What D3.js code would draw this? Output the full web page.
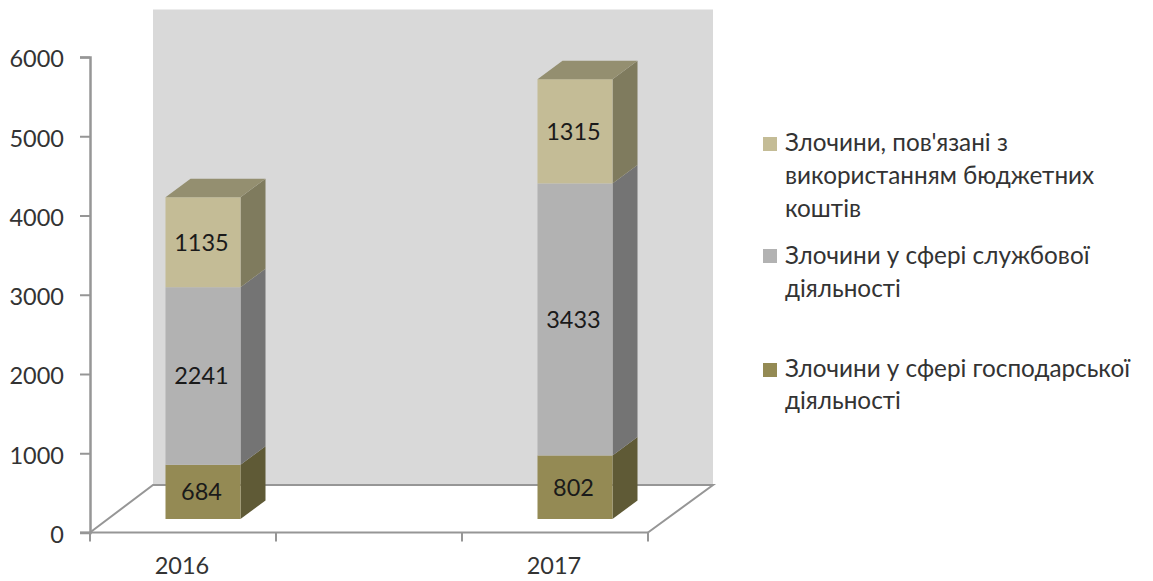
<!DOCTYPE html>
<html>
<head>
<meta charset="utf-8">
<script src="https://cdn.jsdelivr.net/npm/d3@7"></script>
<style>
html, body { margin: 0; padding: 0; background: #fff; }
svg { display: block; }
text { font-family: Lato, "Open Sans", sans-serif; }
</style>
</head>
<body>
<svg id="chart" width="1153" height="581"></svg>
<script>
// Chart data
const years = ["2016", "2017"];
const axisSlots = ["2016", "", "2017"];
const economic = [684, 802];
const official = [2241, 3433];
const budget = [1135, 1315];
const yTicks = [0, 1000, 2000, 3000, 4000, 5000, 6000];

const seriesNames = ["economic", "official", "budget"];
const legendEntries = [
  { key: "budget", lines: ["Злочини, пов'язані з", "використанням бюджетних", "коштів"], top: 137, baselines: [151, 184, 217] },
  { key: "official", lines: ["Злочини у сфері службової", "діяльності"], top: 249, baselines: [264, 297] },
  { key: "economic", lines: ["Злочини у сфері господарської", "діяльності"], top: 363, baselines: [377, 409] }
];
const palette = {
  economic: { front: "#948a54", side: "#5f5a36", top: "#77704a" },
  official: { front: "#b2b2b2", side: "#747474", top: "#8f8f8f" },
  budget: { front: "#c4bc96", side: "#7f7b5e", top: "#948f70" }
};

const axisColor = "#969696";
const textColor = "#333";
const fontSize = 23.5;
const legendFontSize = 24.3;

const svg = d3.select("#chart");
const x = d3.scaleBand().domain(axisSlots).range([90, 648]);
const y = d3.scaleLinear().domain([0, 6000]).range([532.5, 57]);

// Oblique projection: the wall sits behind the front plane, the bars halfway in
const depth = { x: 63, y: -47.5 };
const barShift = { x: 20, y: -13.5 };
const barDepth = { x: 25, y: -18.5 };
const barWidth = 75;

const poly = pts => pts.map(p => p.join(",")).join(" ");

// Back wall and floor
const [x0, x1] = x.range();
const floorOutline = [
  [x0, y(0)], [x0 + depth.x, y(0) + depth.y],
  [x1 + depth.x + 2, y(0) + depth.y], [x1, y(0)]
];
svg.append("rect")
  .attr("x", x0 + depth.x).attr("y", y(6000) + depth.y)
  .attr("width", x1 - x0 + 2)
  .attr("height", y(0) - y(6000))
  .attr("fill", "#d9d9d9");
svg.append("polygon")
  .attr("points", poly(floorOutline))
  .attr("fill", "#fff");
svg.append("polyline")
  .attr("points", poly(floorOutline))
  .attr("fill", "none").attr("stroke", axisColor).attr("stroke-width", 2);

// Stacked prisms, one segment per series from the bottom up
const stacked = d3.stack().keys(seriesNames)(
  years.map((yr, i) => ({
    year: yr,
    economic: economic[i],
    official: official[i],
    budget: budget[i]
  }))
);

stacked.forEach(layer => {
  const colors = palette[layer.key];
  const group = svg.append("g").attr("class", "series-" + layer.key);
  const isTop = layer.key === seriesNames[seriesNames.length - 1];
  layer.forEach(seg => {
    const yr = seg.data.year;
    const left = x(yr) + x.bandwidth() / 2 + barShift.x - barWidth / 2;
    const right = left + barWidth;
    const yB = y(seg[0]) + barShift.y;
    const yT = y(seg[1]) + barShift.y;
    group.append("polygon")
      .attr("points", poly([
        [right, yB], [right + barDepth.x, yB + barDepth.y],
        [right + barDepth.x, yT + barDepth.y], [right, yT]
      ]))
      .attr("fill", colors.side);
    group.append("rect")
      .attr("x", left).attr("y", yT)
      .attr("width", barWidth).attr("height", yB - yT)
      .attr("fill", colors.front);
    if (isTop) {
      group.append("polygon")
        .attr("points", poly([
          [left, yT], [left + barDepth.x, yT + barDepth.y],
          [right + barDepth.x, yT + barDepth.y], [right, yT]
        ]))
        .attr("fill", colors.top);
    }
    group.append("text")
      .attr("x", (left + right) / 2 - 1.5)
      .attr("y", (yT + yB) / 2 + 8.5)
      .attr("text-anchor", "middle")
      .attr("font-size", fontSize)
      .attr("fill", "#1a1a1a")
      .text(seg[1] - seg[0]);
  });
});

// Value axis
const yAxis = svg.append("g")
  .attr("transform", `translate(${x0},0)`)
  .call(d3.axisLeft(y).tickValues(yTicks).tickSize(10).tickPadding(16).tickFormat(d3.format("d")));
yAxis.select(".domain").attr("stroke", axisColor).attr("stroke-width", 2.5);
yAxis.selectAll(".tick line").attr("stroke", axisColor).attr("stroke-width", 2);
yAxis.selectAll(".tick text")
  .attr("font-size", fontSize).attr("font-family", null)
  .attr("fill", textColor).attr("dy", "0.42em");

// Category axis: ticks fall on the slot boundaries
const xAxisLine = svg.append("g").attr("class", "x-axis");
xAxisLine.append("line")
  .attr("x1", x0 - 10).attr("x2", x1)
  .attr("y1", y(0)).attr("y2", y(0))
  .attr("stroke", axisColor).attr("stroke-width", 2);
const boundaries = [x0].concat(axisSlots.map(s => x(s) + x.bandwidth()));
xAxisLine.selectAll("line.tick").data(boundaries).join("line")
  .attr("class", "tick")
  .attr("x1", d => d).attr("x2", d => d)
  .attr("y1", y(0)).attr("y2", y(0) + 9)
  .attr("stroke", axisColor).attr("stroke-width", 2);
xAxisLine.selectAll("text").data(years).join("text")
  .attr("x", d => x(d) + x.bandwidth() / 2 - 1)
  .attr("y", 574)
  .attr("text-anchor", "middle")
  .attr("font-size", fontSize)
  .attr("fill", textColor)
  .text(d => d);

// Legend
const legend = svg.append("g").attr("class", "legend");
legendEntries.forEach(entry => {
  legend.append("rect")
    .attr("x", 763).attr("y", entry.top)
    .attr("width", 14).attr("height", 14)
    .attr("fill", palette[entry.key].front);
  entry.lines.forEach((line, i) => {
    legend.append("text")
      .attr("x", 785).attr("y", entry.baselines[i])
      .attr("font-size", legendFontSize)
      .attr("fill", textColor)
      .text(line);
  });
});
</script>
</body>
</html>
